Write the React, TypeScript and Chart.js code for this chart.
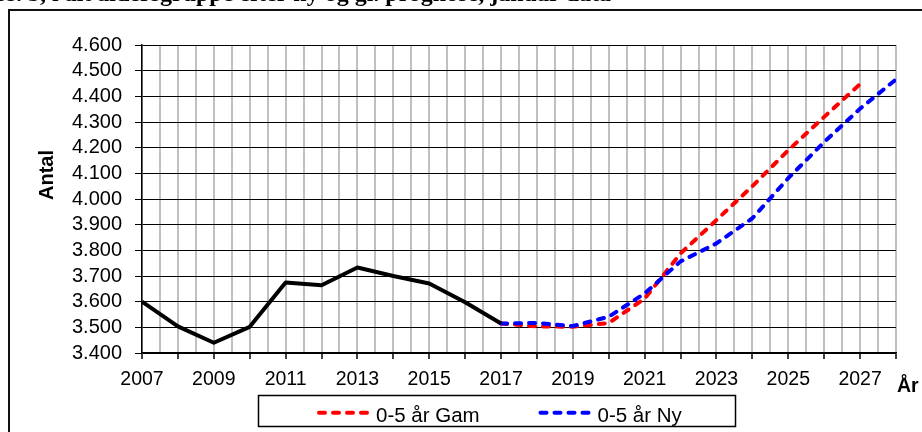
import React, { useEffect, useRef } from "react";
import { Chart, registerables } from "chart.js";

Chart.register(...registerables);

// ---------- data ----------
const actualYears = [2007, 2008, 2009, 2010, 2011, 2012, 2013, 2014, 2015, 2016, 2017];
const actualValues = [3600, 3504, 3440, 3502, 3675, 3664, 3733, 3700, 3671, 3598, 3515];

const gamYears = [2017, 2018, 2019, 2020, 2021, 2022, 2023, 2024, 2025, 2026, 2027];
const gamValues = [3515, 3504, 3502, 3517, 3612, 3788, 3918, 4050, 4190, 4320, 4448];

const nyYears = [2017, 2018, 2019, 2020, 2021, 2022, 2023, 2024, 2025, 2026, 2027, 2028];
const nyValues = [3515, 3517, 3505, 3541, 3632, 3757, 3827, 3925, 4081, 4222, 4352, 4466];

const gamLabel = "0-5 år Gam";
const nyLabel = "0-5 år Ny";
const yAxisTitle = "Antal";
const xAxisTitle = "År";
const titleText = "Pos. 5, i alt aldersgruppe efter ny og gl. prognose, januar data";

const xMin = 2007;
const xMax = 2028;
const xLabelStep = 2;
const yMin = 3400;
const yMax = 4600;
const yStep = 100;

const FONT = '"Liberation Sans", Arial, sans-serif';

const overlayPlugin = {
  id: "overlay",
  beforeDraw(chart: any) {
    const ctx = chart.ctx;
    ctx.save();
    ctx.fillStyle = "#ffffff";
    ctx.fillRect(0, 0, chart.width, chart.height);
    ctx.restore();
  },
  afterDraw(chart: any) {
    const ctx = chart.ctx;
    ctx.save();
    // outer frame
    ctx.strokeStyle = "#111";
    ctx.lineWidth = 2;
    ctx.beginPath();
    ctx.moveTo(9, chart.height + 10);
    ctx.lineTo(9, 10);
    ctx.lineTo(chart.width + 10, 10);
    ctx.stroke();

    // cut-off title
    ctx.fillStyle = "#000";
    ctx.font = 'bold 24px "Liberation Serif", "Times New Roman", serif';
    ctx.textAlign = "left";
    ctx.textBaseline = "alphabetic";
    ctx.fillText(titleText, -20, 1);

    // y axis title
    ctx.save();
    ctx.translate(53, 175);
    ctx.rotate(-Math.PI / 2);
    ctx.font = `bold 20px ${FONT}`;
    ctx.textAlign = "center";
    ctx.textBaseline = "alphabetic";
    ctx.fillText(yAxisTitle, 0, 0);
    ctx.restore();

    // x axis title
    ctx.font = `bold 19.5px ${FONT}`;
    ctx.textAlign = "left";
    ctx.textBaseline = "alphabetic";
    ctx.fillText(xAxisTitle, 897, 391.5);

    // legend
    ctx.strokeStyle = "#000";
    ctx.lineWidth = 1.5;
    ctx.strokeRect(258.5, 395.5, 477, 31);
    const items = chart.data.datasets.filter((d: any) => d.label);
    const starts = [317, 538.5];
    items.forEach((d: any, i: number) => {
      const x0 = starts[i];
      const y0 = 412.7;
      ctx.save();
      ctx.strokeStyle = d.borderColor;
      ctx.lineWidth = 4;
      ctx.lineCap = "round";
      ctx.setLineDash([6, 8]);
      ctx.beginPath();
      ctx.moveTo(x0 + 2, y0);
      ctx.lineTo(x0 + 53, y0);
      ctx.stroke();
      ctx.restore();
      ctx.font = `20.5px ${FONT}`;
      ctx.fillStyle = "#000";
      ctx.textBaseline = "alphabetic";
      ctx.textAlign = "left";
      ctx.fillText(d.label, x0 + 59, 421.5);
    });
    ctx.restore();
  },
};

function toPoints(xs: number[], ys: number[]) {
  return xs.map((x, i) => ({ x, y: ys[i] }));
}

export default function App() {
  const canvasRef = useRef<HTMLCanvasElement | null>(null);

  useEffect(() => {
    if (!canvasRef.current) return;
    const chart = new Chart(canvasRef.current, {
      type: "line",
      data: {
        datasets: [
          {
            data: toPoints(actualYears, actualValues),
            borderColor: "#000000",
            borderWidth: 4,
            pointRadius: 0,
            borderJoinStyle: "round",
            tension: 0,
            order: 0,
          },
          {
            label: gamLabel,
            data: toPoints(gamYears, gamValues),
            borderColor: "#ff0000",
            borderWidth: 4,
            borderDash: [6, 8],
            borderCapStyle: "round",
            borderJoinStyle: "round",
            pointRadius: 0,
            tension: 0,
            order: 2,
          },
          {
            label: nyLabel,
            data: toPoints(nyYears, nyValues),
            borderColor: "#0000ff",
            borderWidth: 4,
            borderDash: [6, 8],
            borderCapStyle: "round",
            borderJoinStyle: "round",
            pointRadius: 0,
            tension: 0,
            order: 1,
          },
        ],
      } as any,
      options: {
        animation: false,
        responsive: false,
        devicePixelRatio: 1,
        layout: { padding: { top: 45, right: 26, left: 0, bottom: 0 } },
        plugins: {
          legend: { display: false },
          title: { display: false },
          tooltip: { enabled: false },
        },
        scales: {
          x: {
            type: "linear",
            min: xMin,
            max: xMax,
            afterFit: (s: any) => {
              s.height = 79;
            },
            ticks: {
              stepSize: 0.5,
              maxTicksLimit: 100,
              autoSkip: false,
              maxRotation: 0,
              minRotation: 0,
              padding: 9,
              color: "#000",
              font: { family: FONT, size: 19.5 },
              callback: (v: any) => {
                const n = Number(v);
                return Number.isInteger(n) && (n - xMin) % xLabelStep === 0 ? String(n) : "";
              },
            },
            grid: {
              color: "#c0c0c0",
              lineWidth: 2,
              tickLength: 6,
              tickColor: (c: any) =>
                c.tick && Number.isInteger(c.tick.value) ? "#000" : "rgba(0,0,0,0)",
              tickWidth: 1.5,
              z: -2,
            },
            border: { color: "#000", width: 1.5 },
          },
          y: {
            type: "linear",
            min: yMin,
            max: yMax,
            afterFit: (s: any) => {
              s.width = 142;
            },
            ticks: {
              stepSize: yStep,
              maxTicksLimit: 100,
              autoSkip: false,
              padding: 13,
              color: "#000",
              font: { family: FONT, size: 20 },
              callback: (v: any) => (Number(v) / 1000).toFixed(3),
            },
            grid: {
              color: "#000",
              lineWidth: 1,
              tickLength: 7,
              tickColor: "#000",
              z: -1,
            },
            border: { color: "#000", width: 1.5 },
          },
        },
      } as any,
      plugins: [overlayPlugin],
    });
    return () => chart.destroy();
  }, []);

  return (
    <div style={{ position: "fixed", left: 0, top: 0, width: 922, height: 432, background: "#fff" }}>
      <canvas ref={canvasRef} width={922} height={432} style={{ display: "block" }} />
    </div>
  );
}
